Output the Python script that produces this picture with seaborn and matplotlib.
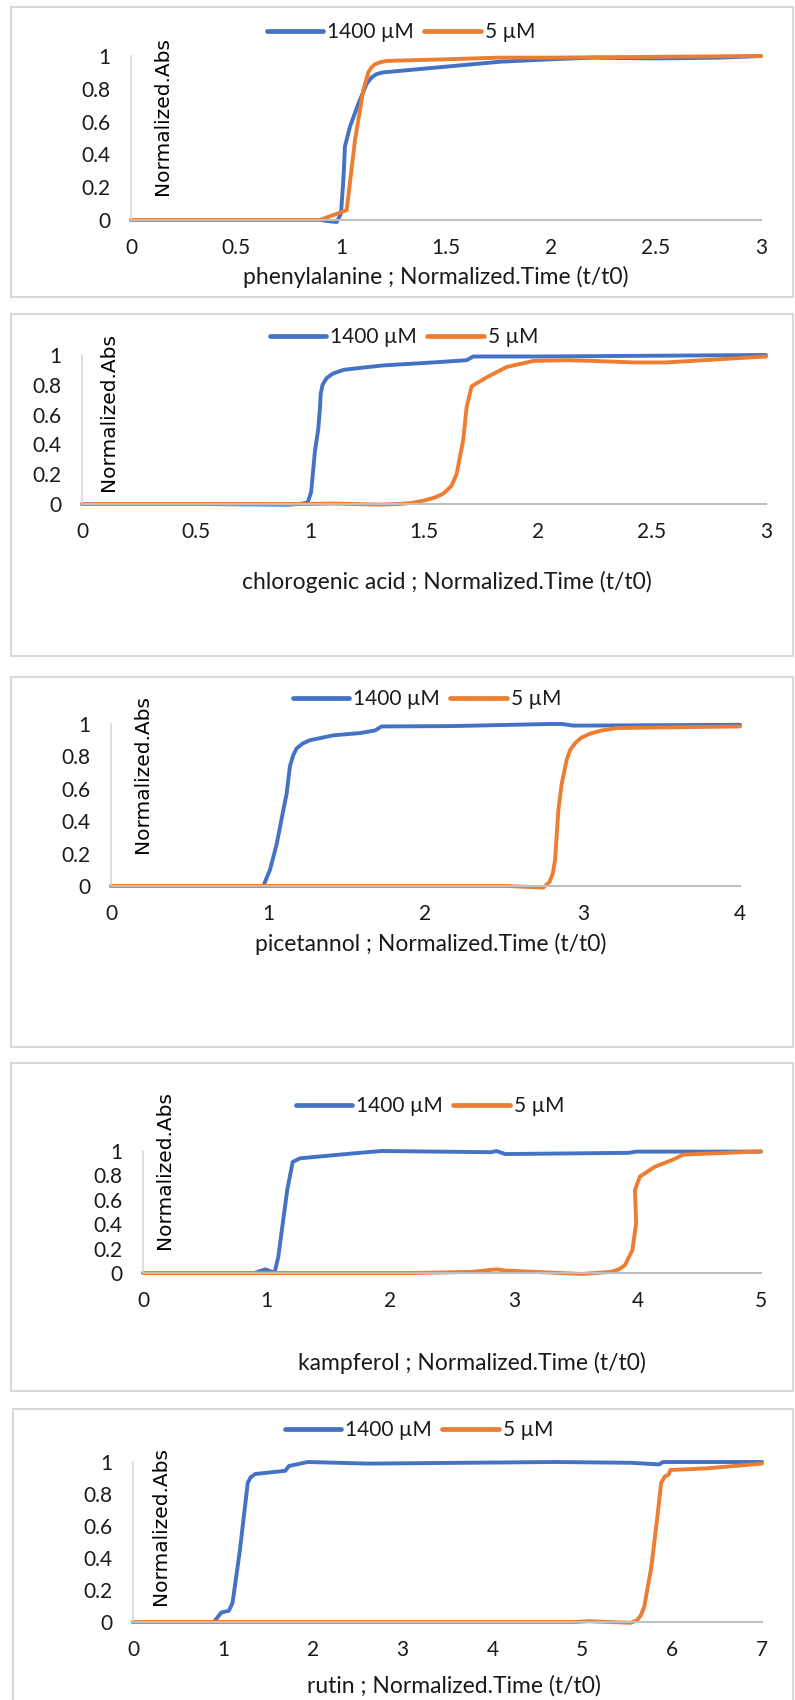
import numpy as np
import pandas as pd
import matplotlib
matplotlib.use("Agg")
import matplotlib.pyplot as plt
from matplotlib.lines import Line2D
from matplotlib.patches import Rectangle
import seaborn as sns

# ---- data (t/t0 , normalized absorbance) ----
phe_t_hi = [0, 0.5, 0.9, 0.96, 0.98, 1.0, 1.011, 1.019, 1.043, 1.083, 1.122, 1.146, 1.17, 1.2, 1.5, 1.757, 2.0, 2.2, 2.5, 2.8, 3.0]
phe_a_hi = [0, 0, 0, -0.01, -0.012, 0.04, 0.24, 0.45, 0.57, 0.71, 0.83, 0.87, 0.89, 0.90, 0.935, 0.965, 0.98, 0.99, 0.985, 0.99, 1.0]
phe_t_lo = [0, 0.5, 0.9, 0.963, 1.027, 1.067, 1.106, 1.13, 1.145, 1.162, 1.19, 1.218, 1.5, 1.757, 2.0, 2.5, 3.0]
phe_a_lo = [0, 0, 0, 0.03, 0.06, 0.49, 0.79, 0.90, 0.93, 0.95, 0.963, 0.97, 0.98, 0.99, 0.99, 0.995, 1.0]

chl_t_hi = [0, 0.5, 0.9, 0.956, 0.99, 1.005, 1.022, 1.036, 1.044, 1.047, 1.055, 1.073, 1.1, 1.146, 1.2, 1.32, 1.54, 1.687, 1.716, 2.0, 2.5, 3.0]
chl_a_hi = [0, 0, -0.005, 0, 0.01, 0.08, 0.36, 0.5, 0.65, 0.74, 0.8, 0.845, 0.875, 0.9, 0.91, 0.93, 0.95, 0.965, 0.99, 0.99, 0.995, 1.0]
chl_t_lo = [0, 0.5, 1.0, 1.1, 1.3, 1.395, 1.45, 1.51, 1.55, 1.585, 1.62, 1.643, 1.672, 1.687, 1.709, 1.775, 1.863, 1.98, 2.126, 2.25, 2.42, 2.56, 3.0]
chl_a_lo = [0, 0, 0, 0.003, -0.004, 0, 0.008, 0.027, 0.045, 0.07, 0.12, 0.2, 0.43, 0.65, 0.79, 0.85, 0.92, 0.96, 0.965, 0.96, 0.95, 0.95, 0.99]

pic_t_hi = [0, 0.5, 0.969, 1.011, 1.054, 1.096, 1.117, 1.138, 1.16, 1.181, 1.22, 1.265, 1.414, 1.583, 1.679, 1.72, 2.16, 2.79, 2.87, 2.94, 4.0]
pic_a_hi = [0, 0, 0, 0.1, 0.26, 0.47, 0.57, 0.74, 0.81, 0.85, 0.88, 0.90, 0.93, 0.944, 0.96, 0.985, 0.987, 1.0, 1.0, 0.99, 0.995]
pic_t_lo = [0, 1.0, 2.0, 2.516, 2.64, 2.75, 2.79, 2.81, 2.824, 2.845, 2.866, 2.898, 2.92, 2.95, 2.99, 3.046, 3.12, 3.216, 4.0]
pic_a_lo = [0, 0, 0, 0, -0.005, -0.01, 0.027, 0.08, 0.16, 0.47, 0.63, 0.78, 0.84, 0.88, 0.915, 0.94, 0.96, 0.975, 0.985]

kam_t_hi = [0, 0.5, 0.9, 0.99, 1.064, 1.094, 1.167, 1.211, 1.27, 1.697, 1.93, 2.816, 2.86, 2.93, 3.93, 3.99, 5.0]
kam_a_hi = [0, 0, 0, 0.03, 0, 0.13, 0.68, 0.91, 0.94, 0.98, 1.0, 0.99, 1.0, 0.975, 0.985, 0.995, 0.995]
kam_t_lo = [0, 1.0, 2.22, 2.67, 2.86, 2.93, 3.26, 3.55, 3.79, 3.85, 3.90, 3.96, 3.99, 3.98, 4.02, 4.14, 4.29, 4.37, 4.6, 5.0]
kam_a_lo = [0, 0, 0, 0.01, 0.03, 0.02, 0.005, -0.008, 0.01, 0.03, 0.065, 0.19, 0.41, 0.68, 0.79, 0.87, 0.93, 0.97, 0.98, 0.997]

rut_t_hi = [0, 0.5, 0.9, 0.984, 1.067, 1.108, 1.19, 1.277, 1.31, 1.36, 1.695, 1.736, 1.945, 2.615, 4.707, 5.54, 5.857, 5.898, 7.0]
rut_a_hi = [0, 0, 0, 0.06, 0.07, 0.12, 0.45, 0.87, 0.905, 0.925, 0.945, 0.975, 1.0, 0.99, 1.0, 0.995, 0.985, 1.0, 1.0]
rut_t_lo = [0, 2.0, 4.915, 5.07, 5.54, 5.607, 5.65, 5.69, 5.77, 5.836, 5.878, 5.92, 5.96, 5.98, 6.38, 7.0]
rut_a_lo = [0, 0, 0, 0.005, -0.005, 0.01, 0.04, 0.095, 0.35, 0.66, 0.87, 0.91, 0.92, 0.95, 0.96, 0.99]

compounds = ["phenylalanine", "chlorogenic acid", "picetannol", "kampferol", "rutin"]
x_max = [3, 3, 4, 5, 7]
x_ticks = [[0, 0.5, 1, 1.5, 2, 2.5, 3], [0, 0.5, 1, 1.5, 2, 2.5, 3],
           [0, 1, 2, 3, 4], [0, 1, 2, 3, 4, 5], [0, 1, 2, 3, 4, 5, 6, 7]]
series = [(phe_t_hi, phe_a_hi, phe_t_lo, phe_a_lo),
          (chl_t_hi, chl_a_hi, chl_t_lo, chl_a_lo),
          (pic_t_hi, pic_a_hi, pic_t_lo, pic_a_lo),
          (kam_t_hi, kam_a_hi, kam_t_lo, kam_a_lo),
          (rut_t_hi, rut_a_hi, rut_t_lo, rut_a_lo)]
labels = ["1400 µM", "5 µM"]
colors = ["#4472C4", "#ED7D31"]

# ---- layout (pixels in a 795 x 1700 picture) ----
W, H = 795, 1700
axes_px = [(131, 761, 56, 220), (82, 766, 355, 504), (111, 740, 724, 886),
           (143, 761, 1151, 1273), (133, 762, 1462, 1622)]
boxes_px = [(11, 7, 793, 297), (11, 314, 793, 656), (11, 677, 793, 1047),
            (11, 1063, 793, 1391), (13, 1409, 793, 1712)]
legend_px = [(401, 32), (404, 337), (427, 699), (430, 1106), (419, 1430)]
ylab_px = [(163, 37), (109, 333), (143, 695), (165, 1091), (161, 1447)]
xlab_px = [(436, 277), (447, 582), (431, 944), (472, 1363), (454, 1686)]

sns.set_style("white")
plt.rcParams["font.family"] = ["Lato", "DejaVu Sans"]
txt = "#1a1a1a"

fig = plt.figure(figsize=(W / 100, H / 100), dpi=100)

for i in range(5):
    l, r, t, b = axes_px[i]
    ax = fig.add_axes([l / W, 1 - b / H, (r - l) / W, (b - t) / H])

    th, ah, tl, al = series[i]
    df = pd.concat([
        pd.DataFrame({"t": th, "a": ah, "conc": labels[0]}),
        pd.DataFrame({"t": tl, "a": al, "conc": labels[1]}),
    ])
    sns.lineplot(data=df, x="t", y="a", hue="conc", palette=colors,
                 estimator=None, sort=False, linewidth=2.8, legend=False, ax=ax)
    for ln in ax.lines:
        ln.set_clip_on(False)
        ln.set_solid_capstyle("round")
        ln.set_solid_joinstyle("round")

    ax.set_xlim(0, x_max[i])
    ax.set_ylim(0, 1)
    ax.set_xticks(x_ticks[i])
    ax.set_xticklabels([f"{v:g}" for v in x_ticks[i]])
    ax.set_yticks([0, 0.2, 0.4, 0.6, 0.8, 1])
    ax.set_yticklabels(["0", "0.2", "0.4", "0.6", "0.8", "1"])
    ax.tick_params(axis="both", length=0, labelsize=15, colors=txt)
    ax.tick_params(axis="y", pad=15)
    ax.tick_params(axis="x", pad=13)
    ax.set_xlabel("")
    ax.set_ylabel("")
    for s in ["top", "right"]:
        ax.spines[s].set_visible(False)
    ax.spines["left"].set_color("#D9D9D9")
    ax.spines["bottom"].set_color("#BFBFBF")
    ax.spines["left"].set_linewidth(1.2)
    ax.spines["bottom"].set_linewidth(1.5)
    ax.set_zorder(2)

    handles = [Line2D([], [], color=c, lw=3.4) for c in colors]
    lx, ly = legend_px[i]
    fig.legend(handles, labels, loc="center", bbox_to_anchor=(lx / W, 1 - ly / H),
               ncol=2, frameon=False, fontsize=15, handlelength=2.7,
               handletextpad=0.2, columnspacing=0.5, labelcolor=txt)

    yx, yy = ylab_px[i]
    fig.text(yx / W, 1 - yy / H, "Normalized.Abs", rotation=90, ha="center", va="top",
             fontsize=14.5, family="DejaVu Sans", color="black", zorder=5)
    xx, xy = xlab_px[i]
    fig.text(xx / W, 1 - xy / H, compounds[i] + " ; Normalized.Time (t/t0)",
             ha="center", va="center", fontsize=16.5, color=txt)

    bl, bt, br, bb = boxes_px[i]
    fig.patches.append(Rectangle((bl / W, 1 - bb / H), (br - bl) / W, (bb - bt) / H,
                                 transform=fig.transFigure, fill=False,
                                 edgecolor="#D9D9D9", linewidth=1.5))

fig.savefig("out.png", dpi=100, facecolor="white")
